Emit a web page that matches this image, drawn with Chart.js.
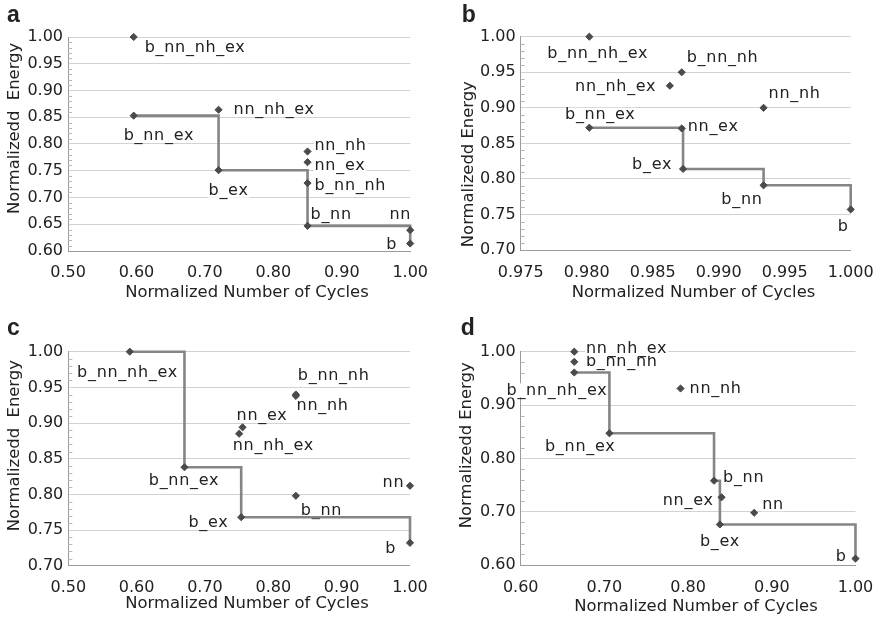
<!DOCTYPE html>
<html>
<head>
<meta charset="utf-8">
<script src="https://cdn.jsdelivr.net/npm/chart.js@4/dist/chart.umd.min.js"></script>
<style>
  html, body { margin: 0; padding: 0; background: #ffffff; }
  #wrap { position: relative; width: 887px; height: 621px; overflow: hidden; background: #fff; }
  canvas { position: absolute; }
</style>
</head>
<body>
<div id="wrap">
  <canvas id="pa" width="440" height="310" style="left:0px;top:0px"></canvas>
  <canvas id="pb" width="447" height="310" style="left:440px;top:0px"></canvas>
  <canvas id="pc" width="440" height="311" style="left:0px;top:310px"></canvas>
  <canvas id="pd" width="447" height="311" style="left:440px;top:310px"></canvas>
</div>
<script>
// ---------------- DATA ----------------
// Panel a
const namesA    = ['b_nn_nh_ex','b_nn_ex','nn_nh_ex','b_ex','nn_nh','nn_ex','b_nn_nh','b_nn','nn','b'];
const cyclesA   = [0.596, 0.596, 0.720, 0.720, 0.850, 0.850, 0.850, 0.850, 1.000, 1.000];
const energyA   = [1.000, 0.853, 0.864, 0.751, 0.786, 0.766, 0.727, 0.647, 0.639, 0.614];
const frontierA = ['b_nn_ex','b_ex','b_nn','b'];
const xTicksA   = [0.50, 0.60, 0.70, 0.80, 0.90, 1.00];
const yTicksA   = [0.60, 0.65, 0.70, 0.75, 0.80, 0.85, 0.90, 0.95, 1.00];

// Panel b
const namesB    = ['b_nn_nh_ex','b_nn_nh','nn_nh_ex','nn_nh','b_nn_ex','nn_ex','b_ex','b_nn','b'];
const cyclesB   = [0.9802, 0.9872, 0.9863, 0.9934, 0.9802, 0.9872, 0.9873, 0.9934, 1.000];
const energyB   = [1.000, 0.950, 0.931, 0.900, 0.872, 0.871, 0.814, 0.791, 0.757];
const frontierB = ['b_nn_ex','b_ex','b_nn','b'];
const xTicksB   = [0.975, 0.980, 0.985, 0.990, 0.995, 1.000];
const yTicksB   = [0.70, 0.75, 0.80, 0.85, 0.90, 0.95, 1.00];

// Panel c
const namesC    = ['b_nn_nh_ex','b_nn_nh','nn_nh','nn_ex','nn_nh_ex','b_nn_ex','b_nn','nn','b_ex','b'];
const cyclesC   = [0.590, 0.833, 0.833, 0.755, 0.750, 0.670, 0.833, 1.000, 0.753, 1.000];
const energyC   = [1.000, 0.940, 0.938, 0.894, 0.885, 0.838, 0.798, 0.812, 0.768, 0.732];
const frontierC = ['b_nn_nh_ex','b_nn_ex','b_ex','b'];
const xTicksC   = [0.50, 0.60, 0.70, 0.80, 0.90, 1.00];
const yTicksC   = [0.70, 0.75, 0.80, 0.85, 0.90, 0.95, 1.00];

// Panel d
const namesD    = ['nn_nh_ex','b_nn_nh','b_nn_nh_ex','nn_nh','b_nn_ex','b_nn','nn_ex','nn','b_ex','b'];
const cyclesD   = [0.664, 0.664, 0.664, 0.791, 0.706, 0.831, 0.840, 0.879, 0.838, 1.000];
const energyD   = [1.000, 0.981, 0.961, 0.931, 0.847, 0.758, 0.727, 0.698, 0.676, 0.612];
const frontierD = ['b_nn_nh_ex','b_nn_ex','b_nn','b_ex','b'];
const xTicksD   = [0.60, 0.70, 0.80, 0.90, 1.00];
const yTicksD   = [0.60, 0.70, 0.80, 0.90, 1.00];

const xTitle = 'Normalized Number of Cycles';
const yTitleA = 'Normalizedd  Energy';
const yTitleB = 'Normalizedd Energy';
const yTitleC = 'Normalizedd  Energy';
const yTitleD = 'Normalizedd Energy';

// ---------------- LAYOUT / STYLE (label placement: [align, dx, dyBaseline]) ----------------
const placeA = [['l',11,15],['l',-10,24],['l',15,4],['l',-10,25],['l',7,-1.5],['l',7,8],['l',7,7],['l',3,-7],['r',1,-11],['r',-13,5]];
const placeB = [['l',-42,21],['l',5,-10],['r',-13.6,5.7],['l',5,-10],['l',-24.3,-8.4],['l',6,3],['r',-11,0],['r',-1,19],['r',-2,22]];
const placeC = [['l',-52.7,25],['l',2,-14.3],['l',0.7,13.6],['l',-6,-7],['l',-6.4,16],['l',-35.7,17.7],['l',5,19],['r',-5.7,1],['r',-12.7,9.4],['r',-14,10]];
const placeD = [['l',11.7,1.6],['l',11.7,4],['l',-67.7,22.3],['l',9,5],['l',-64.4,17.7],['l',9,1.3],['r',-8,7.7],['l',8,-4],['l',-20,21.4],['r',-9,2]];

const FONT = '"DejaVu Sans", Verdana, sans-serif';
const TEXT = '#222222';

const decorPlugin = {
  id: 'decor',
  beforeDatasetsDraw(chart, args, o) {
    const ctx = chart.ctx, ys = chart.scales.y, area = chart.chartArea;
    ctx.save();
    // minor ticks inside the y axis
    ctx.strokeStyle = '#b8b8b8';
    ctx.lineWidth = 1;
    const n = Math.round((ys.max - ys.min) / o.minorStep);
    for (let k = 1; k < n; k++) {
      if (k % o.minorPerMajor === 0) continue;
      const py = Math.round(ys.getPixelForValue(ys.min + k * o.minorStep)) + 0.5;
      ctx.beginPath();
      ctx.moveTo(area.left, py);
      ctx.lineTo(area.left + 4, py);
      ctx.stroke();
    }
    // point labels (drawn last-to-first so earlier names sit on top)
    const meta = chart.getDatasetMeta(0);
    ctx.font = '16px ' + FONT;
    if ('letterSpacing' in ctx) ctx.letterSpacing = '0.7px';
    ctx.textBaseline = 'alphabetic';
    ctx.textAlign = 'left';
    for (let i = o.names.length - 1; i >= 0; i--) {
      const name = o.names[i];
      const pt = meta.data[i];
      const [al, dx, dy] = o.place[i];
      const w = ctx.measureText(name).width;
      const x = al === 'r' ? pt.x + dx - w : pt.x + dx;
      const y = pt.y + dy;
      ctx.fillStyle = '#ffffff';
      ctx.fillRect(x - 1, y - 11.5, w + 2, 14);
      ctx.fillStyle = TEXT;
      ctx.fillText(name, x, y);
    }
    ctx.restore();
  },
  afterDraw(chart, args, o) {
    const ctx = chart.ctx;
    ctx.save();
    ctx.font = 'bold 23px "Liberation Sans", Arial, sans-serif';
    ctx.fillStyle = TEXT;
    ctx.textBaseline = 'alphabetic';
    ctx.textAlign = 'left';
    ctx.fillText(o.letter, o.lx, o.ly);
    ctx.restore();
  }
};

function makePanel(id, p) {
  const pts = p.names.map((n, i) => ({ x: p.cycles[i], y: p.energy[i] }));
  const front = p.frontier.map(n => {
    const i = p.names.indexOf(n);
    return { x: p.cycles[i], y: p.energy[i] };
  });
  new Chart(document.getElementById(id), {
    type: 'scatter',
    data: {
      datasets: [
        {
          data: pts,
          pointStyle: 'rectRot',
          pointRadius: 3.6,
          pointHoverRadius: 3.6,
          backgroundColor: '#4a4a4a',
          borderColor: '#4a4a4a',
          borderWidth: 1,
          clip: false
        },
        {
          data: front,
          showLine: true,
          stepped: true,
          borderColor: '#858585',
          borderWidth: 2.6,
          pointRadius: 0,
          pointHoverRadius: 0,
          fill: false,
          clip: false
        }
      ]
    },
    options: {
      responsive: false,
      devicePixelRatio: 1,
      animation: false,
      events: [],
      layout: { padding: { left: 0, top: p.top, right: p.right, bottom: 0 } },
      plugins: {
        legend: { display: false },
        tooltip: { enabled: false },
        decor: {
          names: p.names, place: p.place,
          minorStep: p.minorStep, minorPerMajor: p.minorPerMajor,
          letter: p.letter, lx: p.lx, ly: p.ly
        }
      },
      scales: {
        x: {
          type: 'linear',
          min: p.xTicks[0],
          max: p.xTicks[p.xTicks.length - 1],
          afterBuildTicks: s => { s.ticks = p.xTicks.map(v => ({ value: v })); },
          afterFit: s => { s.height = p.xh; },
          grid: { display: true, color: 'rgba(0,0,0,0)', drawTicks: false },
          border: { display: true, color: '#9a9a9a', width: 1 },
          ticks: {
            padding: p.xPad,
            maxRotation: 0,
            autoSkip: false,
            color: TEXT,
            font: { family: FONT, size: 16 },
            callback: v => Number(v).toFixed(p.xDec)
          },
          title: {
            display: true,
            text: '   ' + xTitle,
            color: TEXT,
            font: { family: FONT, size: 16.4 },
            padding: { top: 0, bottom: p.xTitlePad }
          }
        },
        y: {
          type: 'linear',
          min: p.yTicks[0],
          max: p.yTicks[p.yTicks.length - 1],
          afterBuildTicks: s => { s.ticks = p.yTicks.map(v => ({ value: v })); },
          afterFit: s => { s.width = p.yw; },
          grid: { display: true, color: '#d2d2d2', lineWidth: 1, drawTicks: false },
          border: { display: true, color: '#9a9a9a', width: 1 },
          ticks: {
            padding: 5,
            autoSkip: false,
            color: TEXT,
            font: { family: FONT, size: 16 },
            callback: v => Number(v).toFixed(2)
          },
          title: {
            display: true,
            text: p.yTitle,
            color: TEXT,
            font: { family: FONT, size: 16.4 },
            padding: { top: p.yTitlePad, bottom: 0 }
          }
        }
      }
    },
    plugins: [decorPlugin]
  });
}

makePanel('pa', {
  names: namesA, cycles: cyclesA, energy: energyA, frontier: frontierA,
  xTicks: xTicksA, yTicks: yTicksA, xDec: 2, place: placeA,
  yTitle: ' '.repeat(6) + yTitleA,
  top: 37, right: 28, yw: 68, xh: 59, xPad: 12, xTitlePad: 7, yTitlePad: 5.2,
  minorStep: 0.01, minorPerMajor: 5, letter: 'a', lx: 7, ly: 21.7
});
makePanel('pb', {
  names: namesB, cycles: cyclesB, energy: energyB, frontier: frontierB,
  xTicks: xTicksB, yTicks: yTicksB, xDec: 3, place: placeB,
  yTitle: yTitleB + ' '.repeat(8),
  top: 36.7, right: 26.3, yw: 80.7, xh: 60, xPad: 13.4, xTitlePad: 7, yTitlePad: 18.5,
  minorStep: 0.01, minorPerMajor: 5, letter: 'b', lx: 21.7, ly: 21.7
});
makePanel('pc', {
  names: namesC, cycles: cyclesC, energy: energyC, frontier: frontierC,
  xTicks: xTicksC, yTicks: yTicksC, xDec: 2, place: placeC,
  yTitle: ' '.repeat(5) + yTitleC,
  top: 41.7, right: 28.3, yw: 68.3, xh: 55.3, xPad: 12.2, xTitlePad: 7, yTitlePad: 5.2,
  minorStep: 0.01, minorPerMajor: 5, letter: 'c', lx: 7, ly: 25
});
makePanel('pd', {
  names: namesD, cycles: cyclesD, energy: energyD, frontier: frontierD,
  xTicks: xTicksD, yTicks: yTicksD, xDec: 2, place: placeD,
  yTitle: ' '.repeat(5) + yTitleD,
  top: 41.7, right: 23, yw: 80.7, xh: 56, xPad: 13.7, xTitlePad: 4.4, yTitlePad: 17.2,
  minorStep: 0.02, minorPerMajor: 5, letter: 'd', lx: 20.7, ly: 25
});
</script>
</body>
</html>
